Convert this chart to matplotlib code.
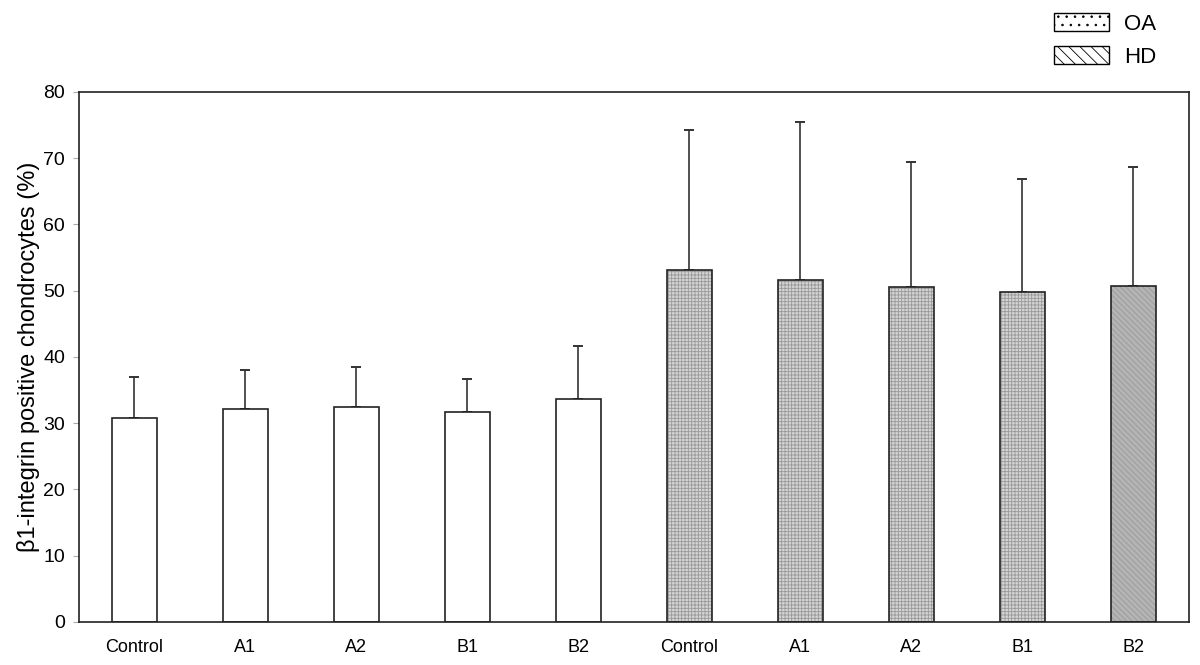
import numpy as np
import matplotlib.pyplot as plt
from matplotlib.patches import Patch

plt.rcParams['font.family'] = ['Liberation Sans', 'DejaVu Sans']
plt.rcParams['hatch.linewidth'] = 0.6

labels = ["Control", "A1", "A2", "B1", "B2", "Control", "A1", "A2", "B1", "B2"]
means = [30.8, 32.2, 32.4, 31.7, 33.6, 53.2, 51.6, 50.5, 49.8, 50.7]
upper = [37.0, 38.1, 38.5, 36.7, 41.6, 74.3, 75.5, 69.5, 66.8, 68.6]
errs = [u - m for u, m in zip(upper, means)]

faces = ["white"] * 5 + ["#d4d4d4"] * 4 + ["#b4b4b4"]
hatches = [None] * 5 + ["+++++"] * 4 + ["\\\\\\\\\\\\"]

fig = plt.figure(figsize=(12, 6.65), dpi=100)
ax = fig.add_axes([0.0658, 0.0647, 0.925, 0.797])
x = np.arange(len(labels))
for i in range(len(labels)):
    b = ax.bar(x[i], means[i], width=0.4, color=faces[i], edgecolor="#222222",
               linewidth=1.2, hatch=hatches[i], zorder=2)
    if hatches[i]:
        b[0]._hatch_color = (0.6, 0.6, 0.6, 1.0)
ax.errorbar(x, means, yerr=[np.zeros(len(errs)), errs], fmt="none",
            ecolor="#333333", elinewidth=1.2, capsize=3.3, capthick=1.4, zorder=1)

ax.set_xlim(-0.5, len(labels) - 0.5)
ax.set_ylim(0, 80)
ax.set_yticks(range(0, 81, 10))
ax.set_xticks(x)
ax.set_xticklabels(labels)
ax.tick_params(axis="x", length=0, pad=12, labelsize=13)
ax.tick_params(axis="y", length=4, color="#aaaaaa", labelsize=14, pad=6)
for s in ax.spines.values():
    s.set_linewidth(1.2)
    s.set_color("#222222")
ax.set_ylabel("β1-integrin positive chondrocytes (%)", fontsize=17, labelpad=2)

handles = [Patch(facecolor="white", edgecolor="black", hatch="..", label="OA"),
           Patch(facecolor="white", edgecolor="black", hatch="\\\\\\", label="HD")]
fig.legend(handles=handles, loc="upper right", bbox_to_anchor=(0.98, 1.01),
           frameon=False, fontsize=16, handlelength=2.5, handleheight=0.85,
           handletextpad=0.65, labelspacing=0.5)

fig.savefig("out.png", dpi=100)
